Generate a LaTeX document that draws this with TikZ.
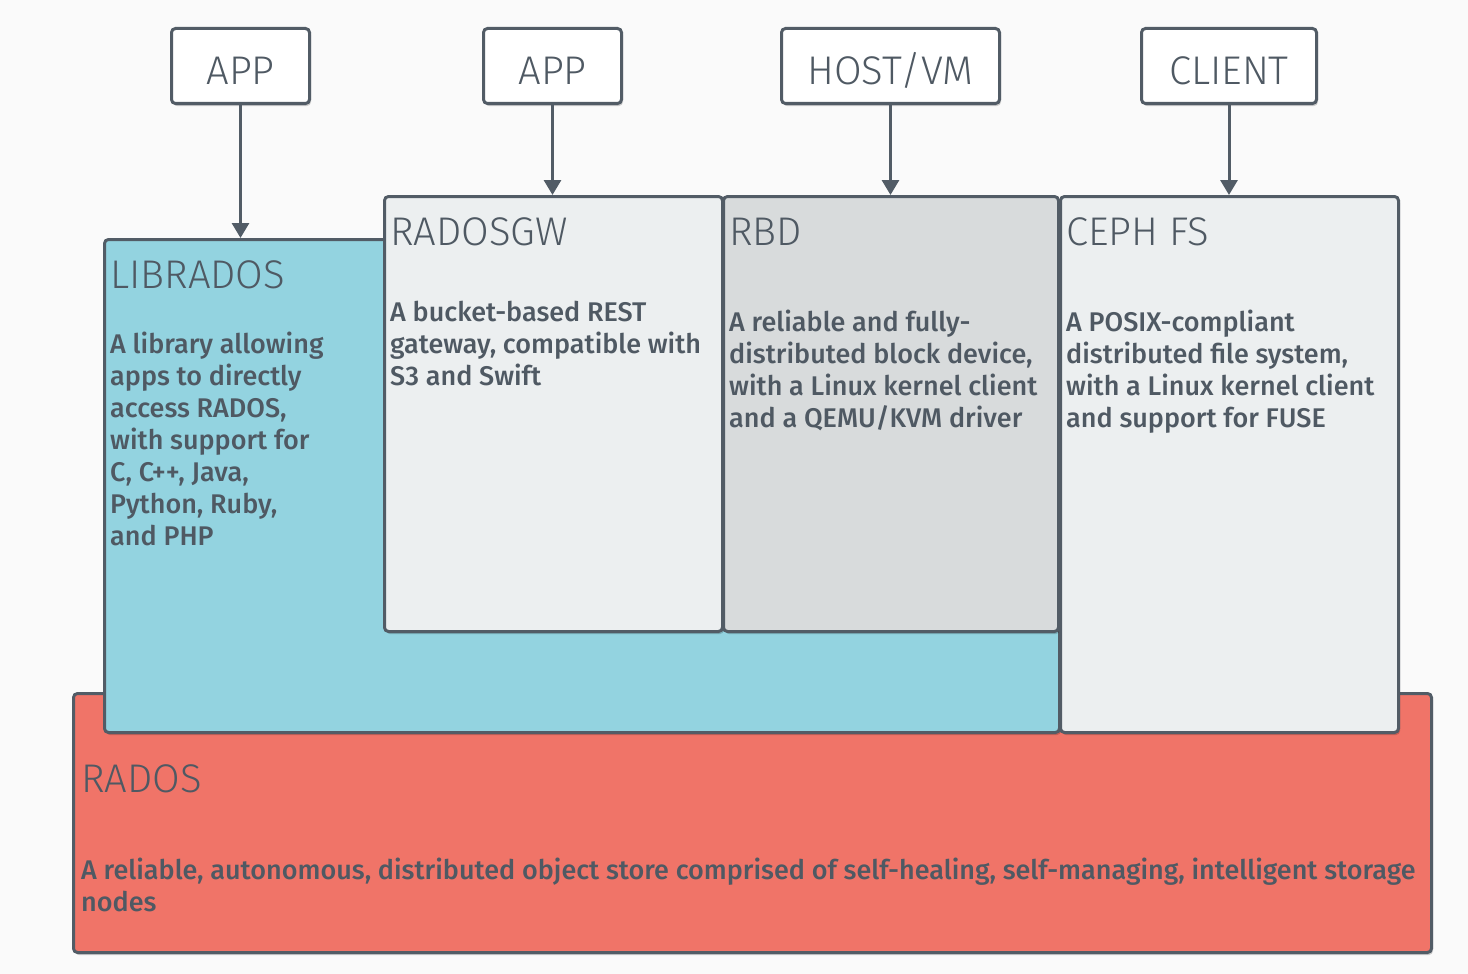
\documentclass[tikz,border=0pt]{standalone}
\usepackage{fontspec}
\setmainfont{Fira Sans}
\newfontfamily\titlefont{Fira Sans Light}
\newfontfamily\bodyfont{Fira Sans Medium}
\usetikzlibrary{arrows.meta,shadows}
\definecolor{bg}{HTML}{FAFAFA}
\definecolor{edge}{HTML}{525C66}
\definecolor{txt}{HTML}{4F5963}
\definecolor{blue}{HTML}{93D3E0}
\definecolor{lightg}{HTML}{ECEFF0}
\definecolor{midg}{HTML}{D8DBDC}
\definecolor{red}{HTML}{F07468}
\tikzset{
  shad/.style={drop shadow={shadow xshift=1.5pt, shadow yshift=-2.5pt, opacity=.18, fill=black}},
  layer/.style={draw=edge, line width=3pt, rounded corners=4pt, rectangle, inner sep=0pt, anchor=north west, shad},
  topbox/.style={draw=edge, line width=3pt, rounded corners=4pt, fill=white, rectangle, inner sep=0pt,
    anchor=north west, text=txt, text height=40pt, text depth=3pt, shad,
    font=\titlefont\fontsize{40}{40}\selectfont},
  ttl/.style={anchor=base west, inner sep=0pt, text=txt, font=\titlefont\fontsize{40}{40}\selectfont},
  body/.style={anchor=base west, inner sep=0pt, text=txt, align=left, font=\bodyfont\fontsize{27}{32}\selectfont},
  arr/.style={draw=edge, line width=3pt, -{Triangle[width=17pt,length=15pt]}}
}
\begin{document}
\begin{tikzpicture}[x=1pt,y=-1pt]
\useasboundingbox (0,0) rectangle (1468,974);
\fill[bg] (0,0) rectangle (1468,974);
% layers
\node[layer, fill=red, minimum width=1358pt, minimum height=259pt] (rados) at (72,692) {};
\node[layer, fill=blue, minimum width=955pt, minimum height=493pt] (librados) at (103,238) {};
\node[layer, fill=lightg, minimum width=338pt, minimum height=435pt] (radosgw) at (383,195) {};
\node[layer, fill=midg, minimum width=335pt, minimum height=435pt] (rbd) at (722,195) {};
\node[layer, fill=lightg, minimum width=338pt, minimum height=536pt] (cephfs) at (1059,195) {};
% top boxes
\node[topbox, minimum width=138pt, minimum height=75pt] (app1) at (170,27) {APP};
\node[topbox, minimum width=138pt, minimum height=75pt] (app2) at (482,27) {APP};
\node[topbox, minimum width=218pt, minimum height=75pt] (host) at (780,27) {HOST/VM};
\node[topbox, minimum width=175pt, minimum height=75pt] (client) at (1140,27) {CLIENT};
% arrows
\draw[arr] (app1.south) -- (app1.south |- librados.north);
\draw[arr] (app2.south) -- (app2.south |- radosgw.north);
\draw[arr] (host.south) -- (host.south |- rbd.north);
\draw[arr] (client.south) -- (client.south |- cephfs.north);
% titles
\node[ttl] (t1) at (110,288) {LIBRADOS};
\node[ttl] (t2) at (390,245) {RADOSGW};
\node[ttl] (t3) at (729,245) {RBD};
\node[ttl] (t4) at (1066,245) {CEPH FS};
\node[ttl] (t5) at (81,792) {RADOS};
% bodies (anchored at the baseline of their last line)
\node[body] (b1) at (110,545) {A library allowing\\apps to directly\\access RADOS,\\with support for\\C, C++, Java,\\Python, Ruby,\\and PHP};
\node[body] (b2) at (390,385) {A bucket-based REST\\gateway, compatible with\\S3 and Swift};
\node[body] (b3) at (729,427) {A reliable and fully-\\distributed block device,\\with a Linux kernel client\\and a QEMU/KVM driver};
\node[body] (b4) at (1066,427) {A POSIX-compliant\\distributed file system,\\with a Linux kernel client\\and support for FUSE};
\node[body] (b5) at (81,911) {A reliable, autonomous, distributed object store comprised of self-healing, self-managing, intelligent storage\\nodes};
\end{tikzpicture}
\end{document}
